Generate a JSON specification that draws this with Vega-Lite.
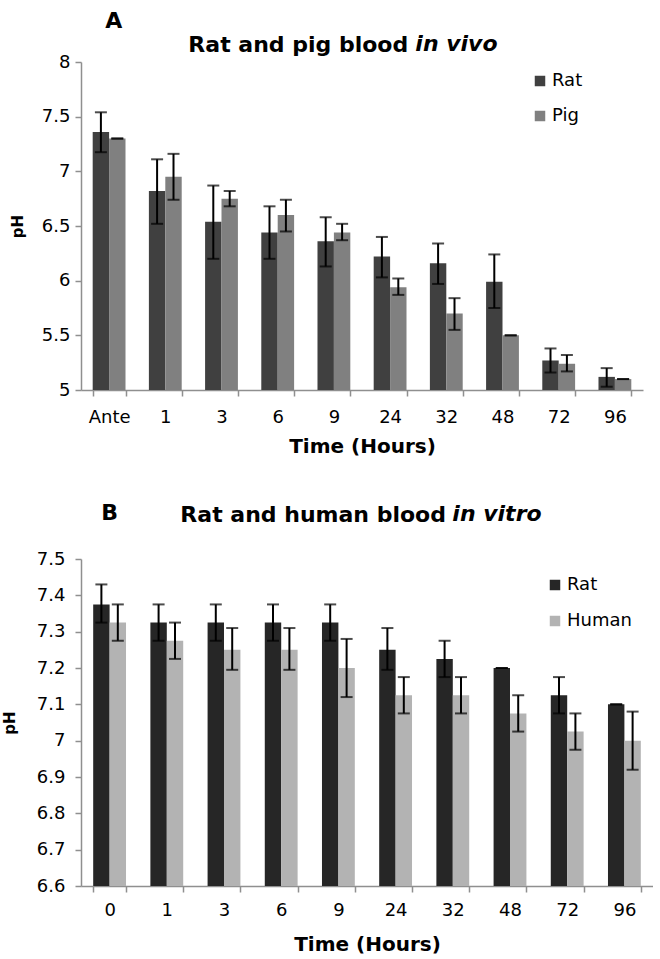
{
  "$schema": "https://vega.github.io/schema/vega-lite/v6.json",
  "background": "white",
  "padding": {"left": 2, "top": 10, "right": 0, "bottom": 0},
  "spacing": 46,
  "resolve": {
    "scale": {"x": "independent", "y": "independent", "color": "independent", "xOffset": "independent"},
    "axis": {"x": "independent", "y": "independent"},
    "legend": {"color": "independent"}
  },
  "config": {
    "font": "DejaVu Sans",
    "view": {"stroke": null},
    "axis": {
      "labelFont": "DejaVu Sans",
      "labelFontSize": 18,
      "labelColor": "black",
      "labelOverlap": false,
      "titleFont": "DejaVu Sans",
      "titleFontWeight": "bold",
      "titleColor": "black",
      "domainColor": "#8f8f8f",
      "tickColor": "#8f8f8f",
      "domainWidth": 1.5,
      "tickWidth": 1.5,
      "tickSize": 6,
      "grid": false
    },
    "legend": {
      "labelFont": "DejaVu Sans",
      "labelFontSize": 18,
      "labelColor": "black",
      "symbolType": "square",
      "symbolSize": 110,
      "symbolStrokeWidth": 0,
      "labelOffset": 3
    },
    "title": {"font": "DejaVu Sans", "fontWeight": "bold", "color": "black", "fontSize": 22}
  },
  "datasets": {
    "invivo": [
      {"time": "Ante", "species": "Rat", "ph": 7.36, "lo": 7.175, "hi": 7.54},
      {"time": "Ante", "species": "Pig", "ph": 7.30, "lo": 7.30, "hi": 7.30},
      {"time": "1", "species": "Rat", "ph": 6.82, "lo": 6.52, "hi": 7.11},
      {"time": "1", "species": "Pig", "ph": 6.95, "lo": 6.74, "hi": 7.16},
      {"time": "3", "species": "Rat", "ph": 6.54, "lo": 6.20, "hi": 6.87},
      {"time": "3", "species": "Pig", "ph": 6.75, "lo": 6.68, "hi": 6.82},
      {"time": "6", "species": "Rat", "ph": 6.44, "lo": 6.20, "hi": 6.68},
      {"time": "6", "species": "Pig", "ph": 6.60, "lo": 6.45, "hi": 6.74},
      {"time": "9", "species": "Rat", "ph": 6.36, "lo": 6.13, "hi": 6.58},
      {"time": "9", "species": "Pig", "ph": 6.44, "lo": 6.37, "hi": 6.52},
      {"time": "24", "species": "Rat", "ph": 6.22, "lo": 6.03, "hi": 6.40},
      {"time": "24", "species": "Pig", "ph": 5.94, "lo": 5.87, "hi": 6.02},
      {"time": "32", "species": "Rat", "ph": 6.16, "lo": 5.97, "hi": 6.34},
      {"time": "32", "species": "Pig", "ph": 5.70, "lo": 5.55, "hi": 5.84},
      {"time": "48", "species": "Rat", "ph": 5.99, "lo": 5.75, "hi": 6.24},
      {"time": "48", "species": "Pig", "ph": 5.50, "lo": 5.50, "hi": 5.50},
      {"time": "72", "species": "Rat", "ph": 5.27, "lo": 5.16, "hi": 5.38},
      {"time": "72", "species": "Pig", "ph": 5.24, "lo": 5.17, "hi": 5.32},
      {"time": "96", "species": "Rat", "ph": 5.12, "lo": 5.03, "hi": 5.20},
      {"time": "96", "species": "Pig", "ph": 5.10, "lo": 5.10, "hi": 5.10}
    ],
    "invitro": [
      {"time": "0", "species": "Rat", "ph": 7.375, "lo": 7.325, "hi": 7.43},
      {"time": "0", "species": "Human", "ph": 7.325, "lo": 7.275, "hi": 7.375},
      {"time": "1", "species": "Rat", "ph": 7.325, "lo": 7.275, "hi": 7.375},
      {"time": "1", "species": "Human", "ph": 7.275, "lo": 7.225, "hi": 7.325},
      {"time": "3", "species": "Rat", "ph": 7.325, "lo": 7.275, "hi": 7.375},
      {"time": "3", "species": "Human", "ph": 7.25, "lo": 7.195, "hi": 7.31},
      {"time": "6", "species": "Rat", "ph": 7.325, "lo": 7.275, "hi": 7.375},
      {"time": "6", "species": "Human", "ph": 7.25, "lo": 7.195, "hi": 7.31},
      {"time": "9", "species": "Rat", "ph": 7.325, "lo": 7.275, "hi": 7.375},
      {"time": "9", "species": "Human", "ph": 7.2, "lo": 7.12, "hi": 7.28},
      {"time": "24", "species": "Rat", "ph": 7.25, "lo": 7.195, "hi": 7.31},
      {"time": "24", "species": "Human", "ph": 7.125, "lo": 7.075, "hi": 7.175},
      {"time": "32", "species": "Rat", "ph": 7.225, "lo": 7.175, "hi": 7.275},
      {"time": "32", "species": "Human", "ph": 7.125, "lo": 7.075, "hi": 7.175},
      {"time": "48", "species": "Rat", "ph": 7.2, "lo": 7.2, "hi": 7.2},
      {"time": "48", "species": "Human", "ph": 7.075, "lo": 7.025, "hi": 7.125},
      {"time": "72", "species": "Rat", "ph": 7.125, "lo": 7.075, "hi": 7.175},
      {"time": "72", "species": "Human", "ph": 7.025, "lo": 6.975, "hi": 7.075},
      {"time": "96", "species": "Rat", "ph": 7.1, "lo": 7.1, "hi": 7.1},
      {"time": "96", "species": "Human", "ph": 7.0, "lo": 6.92, "hi": 7.08}
    ]
  },
  "vconcat": [
    {
      "title": {"text": "A", "anchor": "start", "frame": "bounds", "dx": 95, "offset": 0},
      "vconcat": [
        {
          "title": {"text": "in vivo", "anchor": "start", "frame": "bounds", "fontStyle": "italic", "dx": 405, "offset": -22},
          "vconcat": [
            {
              "title": {"text": "Rat and pig blood", "anchor": "start", "frame": "bounds", "dx": 178, "offset": -4},
              "width": 562,
              "height": 328,
              "data": {"name": "invivo"},
              "encoding": {
                "x": {
                  "field": "time", "type": "nominal", "sort": null,
                  "scale": {"paddingInner": 0.416, "paddingOuter": 0.208},
                  "axis": {"title": "Time (Hours)", "labelAngle": 0, "tickBand": "extent", "titleFontSize": 20, "labelPadding": 12, "titlePadding": 10}
                },
                "xOffset": {"field": "species", "type": "nominal", "sort": ["Rat", "Pig"], "scale": {"paddingInner": 0}}
              },
              "layer": [
                {
                  "mark": {"type": "bar"},
                  "encoding": {
                    "y": {
                      "field": "ph", "type": "quantitative",
                      "scale": {"domain": [5, 8], "nice": false, "zero": false, "clamp": true},
                      "axis": {"title": "pH", "values": [5, 5.5, 6, 6.5, 7, 7.5, 8], "format": "~g", "titleFontSize": 15, "titlePadding": 16, "labelPadding": 5}
                    },
                    "color": {
                      "field": "species", "type": "nominal",
                      "scale": {"domain": ["Rat", "Pig"], "range": ["#404040", "#808080"]},
                      "legend": {"title": null, "orient": "none", "legendX": 450, "legendY": 10, "rowPadding": 17}
                    }
                  }
                },
                {
                  "mark": {"type": "rule", "color": "black", "strokeWidth": 2},
                  "encoding": {
                    "y": {"field": "lo", "type": "quantitative", "axis": {"title": "pH", "values": [5, 5.5, 6, 6.5, 7, 7.5, 8], "format": "~g", "titleFontSize": 15, "titlePadding": 16, "labelPadding": 5}},
                    "y2": {"field": "hi"}
                  }
                },
                {
                  "mark": {"type": "tick", "color": "black", "thickness": 2, "size": 12},
                  "encoding": {"y": {"field": "lo", "type": "quantitative", "axis": {"title": "pH", "values": [5, 5.5, 6, 6.5, 7, 7.5, 8], "format": "~g", "titleFontSize": 15, "titlePadding": 16, "labelPadding": 5}}}
                },
                {
                  "mark": {"type": "tick", "color": "black", "thickness": 2, "size": 12},
                  "encoding": {"y": {"field": "hi", "type": "quantitative", "axis": {"title": "pH", "values": [5, 5.5, 6, 6.5, 7, 7.5, 8], "format": "~g", "titleFontSize": 15, "titlePadding": 16, "labelPadding": 5}}}
                }
              ]
            }
          ]
        }
      ]
    },
    {
      "title": {"text": "B", "anchor": "start", "frame": "bounds", "dx": 99, "offset": -22},
      "vconcat": [
        {
          "title": {"text": "in vitro", "anchor": "start", "frame": "bounds", "fontStyle": "italic", "dx": 450, "offset": -22},
          "vconcat": [
            {
              "title": {"text": "Rat and human blood", "anchor": "start", "frame": "bounds", "dx": 178, "offset": 23},
              "width": 572,
              "height": 327,
              "data": {"name": "invitro"},
              "encoding": {
                "x": {
                  "field": "time", "type": "nominal", "sort": null,
                  "scale": {"paddingInner": 0.426, "paddingOuter": 0.213},
                  "axis": {"title": "Time (Hours)", "labelAngle": 0, "tickBand": "extent", "titleFontSize": 20, "labelPadding": 9, "titlePadding": 15}
                },
                "xOffset": {"field": "species", "type": "nominal", "sort": ["Rat", "Human"], "scale": {"paddingInner": 0}}
              },
              "layer": [
                {
                  "mark": {"type": "bar"},
                  "encoding": {
                    "y": {
                      "field": "ph", "type": "quantitative",
                      "scale": {"domain": [6.6, 7.5], "nice": false, "zero": false, "clamp": true},
                      "axis": {"title": "pH", "values": [6.6, 6.7, 6.8, 6.9, 7, 7.1, 7.2, 7.3, 7.4, 7.5], "format": "~g", "titleFontSize": 15, "titlePadding": 19, "labelPadding": 10}
                    },
                    "color": {
                      "field": "species", "type": "nominal",
                      "scale": {"domain": ["Rat", "Human"], "range": ["#262626", "#b3b3b3"]},
                      "legend": {"title": null, "orient": "none", "legendX": 465, "legendY": 17, "rowPadding": 18}
                    }
                  }
                },
                {
                  "mark": {"type": "rule", "color": "black", "strokeWidth": 2},
                  "encoding": {
                    "y": {"field": "lo", "type": "quantitative", "axis": {"title": "pH", "values": [6.6, 6.7, 6.8, 6.9, 7, 7.1, 7.2, 7.3, 7.4, 7.5], "format": "~g", "titleFontSize": 15, "titlePadding": 19, "labelPadding": 10}},
                    "y2": {"field": "hi"}
                  }
                },
                {
                  "mark": {"type": "tick", "color": "black", "thickness": 2, "size": 12},
                  "encoding": {"y": {"field": "lo", "type": "quantitative", "axis": {"title": "pH", "values": [6.6, 6.7, 6.8, 6.9, 7, 7.1, 7.2, 7.3, 7.4, 7.5], "format": "~g", "titleFontSize": 15, "titlePadding": 19, "labelPadding": 10}}}
                },
                {
                  "mark": {"type": "tick", "color": "black", "thickness": 2, "size": 12},
                  "encoding": {"y": {"field": "hi", "type": "quantitative", "axis": {"title": "pH", "values": [6.6, 6.7, 6.8, 6.9, 7, 7.1, 7.2, 7.3, 7.4, 7.5], "format": "~g", "titleFontSize": 15, "titlePadding": 19, "labelPadding": 10}}}
                }
              ]
            }
          ]
        }
      ]
    }
  ]
}
